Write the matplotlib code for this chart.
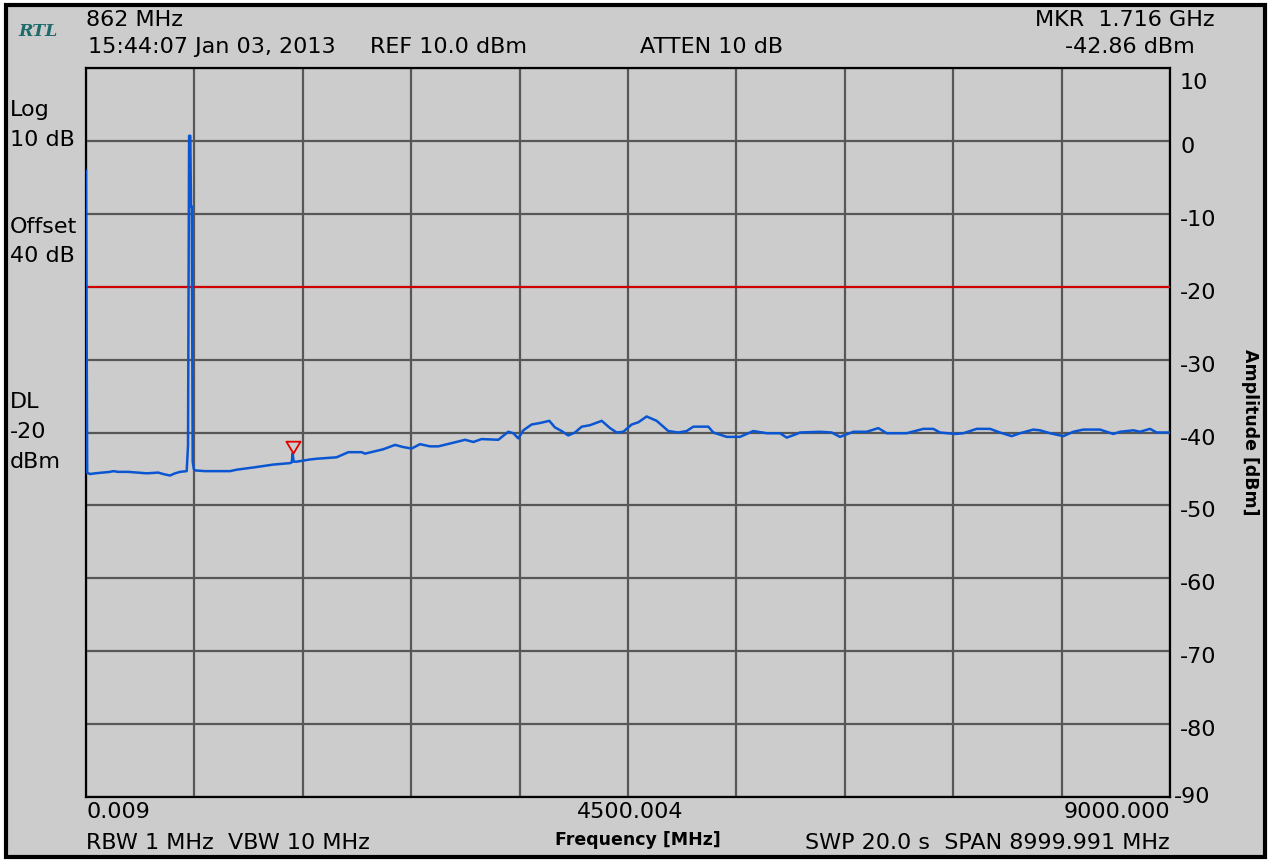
import numpy as np
import matplotlib
matplotlib.use("Agg")
from matplotlib import pyplot as plt
from matplotlib.patches import Rectangle
from matplotlib.path import Path

# sweep settings
f_start = 0.009
f_stop = 9000.000
ref_level = 10.0
display_line = -20
marker_freq = 1716.0
marker_level = -42.86

# trace, frequency in MHz and level in dBm
freqs = [0.009, 10, 33, 75, 199, 227, 268, 351, 504, 600, 642, 697, 739, 781,
         836, 847, 856, 866, 872, 878, 886, 895, 905, 988, 1196, 1251, 1389,
         1555, 1694, 1708, 1716, 1724, 1749, 1860, 1916, 2081, 2178, 2289, 2316,
         2468, 2566, 2634, 2704, 2773, 2856, 2925, 3050, 3147, 3216, 3285, 3423,
         3506, 3548, 3589, 3631, 3700, 3769, 3847, 3893, 3949, 4004, 4060, 4116,
         4184, 4282, 4351, 4406, 4461, 4531, 4586, 4655, 4738, 4835, 4918, 4987,
         5042, 5167, 5208, 5320, 5430, 5540, 5652, 5762, 5818, 5901, 5928, 6094,
         6191, 6260, 6371, 6482, 6578, 6648, 6814, 6952, 7035, 7090, 7215, 7284,
         7395, 7506, 7588, 7686, 7755, 7865, 7921, 8004, 8114, 8197, 8280, 8419,
         8529, 8585, 8696, 8751, 8834, 8889, 9000]
levels = [-4.1, -45.5, -45.7, -45.6, -45.4, -45.3, -45.4, -45.4, -45.6, -45.5,
          -45.7, -45.9, -45.6, -45.4, -45.3, -41.8, 0.7, 0.7, -9.0, -9.0, -44.0,
          -45.0, -45.2, -45.3, -45.3, -45.1, -44.8, -44.4, -44.2, -44.1, -42.86,
          -44.0, -44.0, -43.7, -43.6, -43.4, -42.7, -42.7, -42.9, -42.3, -41.7,
          -42.0, -42.2, -41.6, -41.9, -41.9, -41.4, -41.0, -41.3, -40.9, -41.0,
          -39.9, -40.1, -40.8, -39.7, -38.9, -38.7, -38.4, -39.3, -39.8, -40.4,
          -40.0, -39.2, -39.0, -38.4, -39.4, -40.0, -39.9, -38.9, -38.6, -37.8,
          -38.4, -39.8, -40.0, -39.8, -39.2, -39.2, -40.0, -40.6, -40.6, -39.8,
          -40.1, -40.1, -40.7, -40.2, -40.0, -39.9, -40.0, -40.6, -39.9, -39.9,
          -39.4, -40.1, -40.1, -39.5, -39.5, -40.0, -40.2, -40.1, -39.5, -39.5,
          -40.0, -40.5, -40.1, -39.6, -39.7, -40.1, -40.5, -39.9, -39.6, -39.6,
          -40.2, -39.9, -39.7, -39.9, -39.5, -40.0, -40.0]

W, H = 1269, 861
bg = "#cccccc"
font = "DejaVu Sans"

fig = plt.figure(figsize=(W / 100, H / 100), dpi=100, facecolor="white")
fig.add_artist(Rectangle((6 / W, 4 / H), 1259 / W, 852 / H, transform=fig.transFigure,
                         facecolor=bg, edgecolor="black", lw=3, zorder=0))

ax = fig.add_axes([86 / W, 64 / H, 1084 / W, 729 / H])
ax.set_facecolor(bg)
ax.set_xlim(f_start, f_stop)
ax.set_ylim(-90, ref_level)
ax.set_xticks(np.linspace(f_start, f_stop, 11))
yticks = np.arange(-90, ref_level + 1, 10)
ax.set_yticks(yticks)
ax.grid(True, color="#575757", lw=1.6)
ax.tick_params(length=0, labelbottom=False, labelleft=False)
for sp in ax.spines.values():
    sp.set_color("black")
    sp.set_linewidth(1.6)

ax.axhline(display_line, color="#d00000", lw=1.5, zorder=3)
ax.plot(freqs, levels, color="#0a56d2", lw=1.8, zorder=4)

# marker triangle, tip sitting on the marker point
tri = Path([(0, 0), (-0.6, 1), (0.6, 1), (0, 0)],
           [Path.MOVETO, Path.LINETO, Path.LINETO, Path.CLOSEPOLY])
ax.plot([marker_freq], [marker_level], marker=tri, ms=17, mfc="none",
        mec="#e00000", mew=1.3, zorder=5)


def put(x, y, s, **kw):
    kw.setdefault("fontsize", 16)
    kw.setdefault("family", font)
    fig.text(x / W, 1 - y / H, s, va="center", **kw)


# header
put(18, 31, "RTL", family="DejaVu Serif", style="italic", weight="bold",
    fontsize=12.5, color="#1f6b6b")
put(86, 20, "862 MHz")
put(88, 47, "15:44:07 Jan 03, 2013")
put(370, 47, "REF %.1f dBm" % ref_level)
put(640, 47, "ATTEN 10 dB")
put(1215, 20, "MKR  %.3f GHz" % (marker_freq / 1000), ha="right")
put(1195, 47, "%.2f dBm" % marker_level, ha="right")

# left annotations
for y, s in [(110, "Log"), (140, "10 dB"), (227, "Offset"), (256, "40 dB"),
             (402, "DL"), (432, "%d" % display_line), (462, "dBm")]:
    put(10, y, s)

# right amplitude scale
for t in yticks:
    y = 68 + (ref_level - t) * 7.29
    if t == ref_level:
        y += 15
    elif t == -90:
        y += 0
    else:
        y += 6
    put(1180 if t != -90 else 1174, y, "%d" % t)
put(1250, 432, "Amplitude [dBm]", rotation=-90, weight="bold", fontsize=12.5,
    ha="center")

# footer
put(86, 812, "%.3f" % f_start)
put(630, 812, "%.3f" % ((f_start + f_stop) / 2 - 0.0005), ha="center")
put(1170, 812, "%.3f" % f_stop, ha="right")
put(86, 843, "RBW 1 MHz  VBW 10 MHz")
put(638, 840, "Frequency [MHz]", weight="bold", fontsize=12.5, ha="center")
put(1170, 843, "SWP 20.0 s  SPAN %.3f MHz" % (f_stop - f_start), ha="right")

fig.savefig("out.png", dpi=100, facecolor="white")
